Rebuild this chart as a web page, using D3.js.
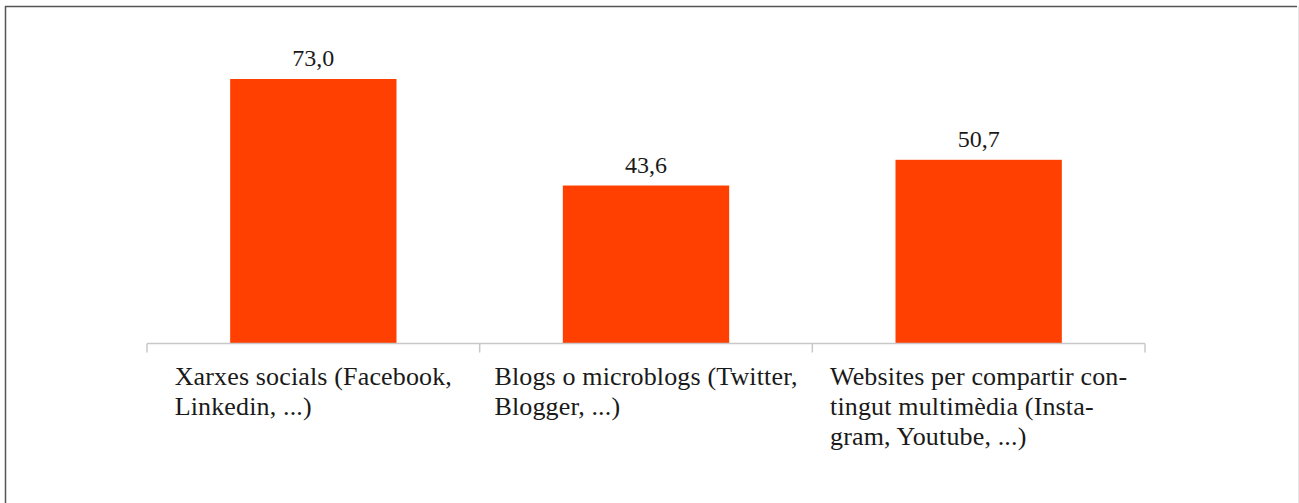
<!DOCTYPE html>
<html><head><meta charset="utf-8">
<script src="https://cdn.jsdelivr.net/npm/d3@7"></script>
<style>html,body{margin:0;padding:0;background:#fff;}svg{display:block;}</style>
</head><body>
<svg id="c" width="1299" height="503"></svg>
<script>
const categories = ["Xarxes socials", "Blogs o microblogs", "Websites per compartir contingut multimèdia"];
const labelLines = [
  ["Xarxes socials (Facebook,", "Linkedin, ...)"],
  ["Blogs o microblogs (Twitter,", "Blogger, ...)"],
  ["Websites per compartir con-", "tingut multimèdia (Insta-", "gram, Youtube, ..."+")"]
];
const values = [73.0, 43.6, 50.7];
const valueLabels = ["73,0", "43,6", "50,7"];

const svg = d3.select("#c");
const font = "'Liberation Serif', 'Times New Roman', serif";

// frame
svg.append("line").attr("x1",5.5).attr("x2",5.5).attr("y1",6).attr("y2",503).attr("stroke","#555").attr("stroke-width",1.5);
svg.append("line").attr("x1",5).attr("x2",1297).attr("y1",6.5).attr("y2",6.5).attr("stroke","#555").attr("stroke-width",1.5);
svg.append("line").attr("x1",1298.5).attr("x2",1298.5).attr("y1",6).attr("y2",503).attr("stroke","#e6e6e6").attr("stroke-width",1);

const x = d3.scaleBand().domain(categories).range([147, 1145]).paddingInner(0).paddingOuter(0);
const y = d3.scaleLinear().domain([0, 73.0]).range([343.5, 79]);

const barW = x.bandwidth() * 0.5;

svg.selectAll("rect.bar").data(categories).join("rect")
  .attr("class","bar")
  .attr("x", d => x(d) + (x.bandwidth() - barW)/2)
  .attr("width", barW)
  .attr("y", (d,i) => y(values[i]))
  .attr("height", (d,i) => y(0) - y(values[i]))
  .attr("fill", "#ff4000");

// axis
const axisG = svg.append("g").attr("transform", `translate(0,${y(0)})`);
axisG.append("line").attr("x1",147).attr("x2",1145).attr("y1",0).attr("y2",0).attr("stroke","#c8c8c8").attr("stroke-width",1.5);
const edges = categories.map(c => x(c)).concat([x(categories[categories.length-1]) + x.bandwidth()]);
axisG.selectAll("line.tick").data(edges).join("line").attr("class","tick")
  .attr("x1", d => d).attr("x2", d => d).attr("y1", 0).attr("y2", 9)
  .attr("stroke","#c8c8c8").attr("stroke-width",1.5);

// value labels
svg.selectAll("text.val").data(categories).join("text")
  .attr("class","val")
  .attr("x", d => x(d) + x.bandwidth()/2)
  .attr("y", (d,i) => y(values[i]) - 13)
  .attr("text-anchor","middle")
  .attr("font-family", font).attr("font-size", 24).attr("fill","#1a1a1a")
  .text((d,i) => valueLabels[i]);

// category labels: block centered, lines left-aligned
categories.forEach((c, i) => {
  const t = svg.append("text").attr("font-family", font).attr("font-size", 26).attr("fill","#1a1a1a")
    .attr("letter-spacing", 0.15);
  labelLines[i].forEach((ln, j) => {
    t.append("tspan").attr("x", 0).attr("y", 385 + j*30).text(ln);
  });
  const w = t.node().getBBox().width;
  const cx = x(c) + x.bandwidth()/2;
  t.attr("transform", `translate(${cx - w/2},0)`);
});
</script>
</body></html>
